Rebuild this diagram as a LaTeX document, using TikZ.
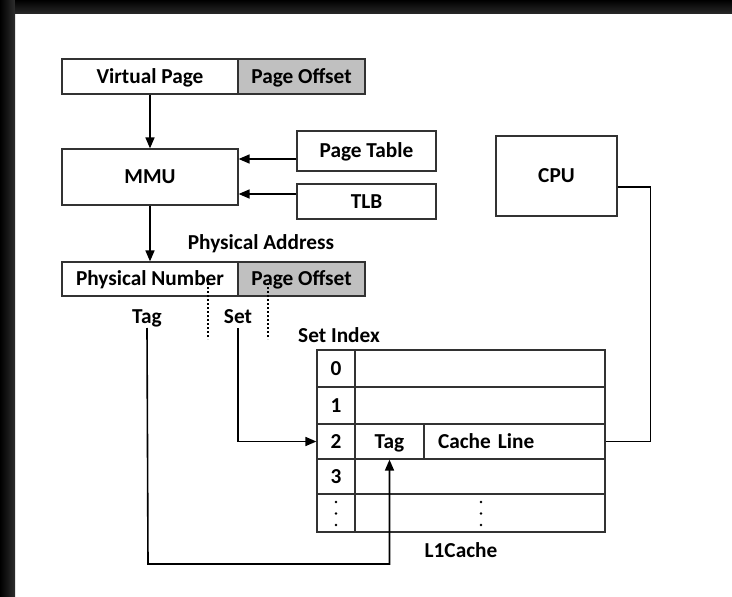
\documentclass[tikz,border=0pt]{standalone}
\usepackage{fontspec}
\setmainfont{Carlito}
\usetikzlibrary{arrows.meta,calc}
\definecolor{shade}{RGB}{192,192,192}
\definecolor{edge}{RGB}{50,50,50}
\tikzset{
  txt/.style={font=\fontsize{21.3}{25}\selectfont\bfseries, text height=13.6pt, text depth=0pt},
  lbl/.style={txt, inner sep=0pt},
  cell/.style={txt, draw=edge, line width=1.2pt, rectangle, inner sep=0pt},
  conn/.style={draw=black, line width=1.6pt},
  arr/.style={conn, -{Triangle[length=11pt,width=9pt]}},
  dotline/.style={draw=black, line width=1.3pt, dash pattern=on 2pt off 2pt},
}
\begin{document}
\begin{tikzpicture}[x=1pt,y=-1pt]
\useasboundingbox (0,0) rectangle (732,597);
\fill[white] (0,0) rectangle (732,597);
\shade[left color=black, right color=black!82] (0,0) rectangle (15,597);
\shade[top color=black, bottom color=black!85] (15,0) rectangle (732,13);
% virtual address
\node[cell, minimum width=176pt, minimum height=35pt] (vp) at (150,76.5) {Virtual Page};
\node[cell, fill=shade, minimum width=127pt, minimum height=35pt] (vpo) at (301.5,76.5) {Page Offset};
% MMU etc
\node[cell, minimum width=176pt, minimum height=56pt] (mmu) at (150,177) {MMU};
\node[cell, minimum width=139pt, minimum height=40pt] (pt) at (366.5,151) {Page Table};
\node[cell, minimum width=139pt, minimum height=35pt] (tlb) at (366.5,201.5) {TLB};
\node[cell, minimum width=121pt, minimum height=80pt] (cpu) at (556.5,176) {CPU};
% physical address
\node[lbl] (palbl) at (261,243) {Physical Address};
\node[cell, minimum width=176pt, minimum height=34pt] (pn) at (150,279) {Physical Number};
\node[cell, fill=shade, minimum width=127pt, minimum height=34pt] (pno) at (301.5,279) {Page Offset};
\node[lbl, inner sep=4pt] (taglbl) at (147,317) {Tag};
\node[lbl, inner sep=4pt] (setlbl) at (238,317) {Set};
\coordinate (d1a) at (208,283);
\coordinate (d1b) at (208,339);
\coordinate (d2a) at (268,283);
\coordinate (d2b) at (268,339);
\draw[dotline] (d1a) -- (d1b);
\draw[dotline] (d2a) -- (d2b);
% cache
\node[lbl] (silbl) at (339,336) {Set Index};
\node[cell, minimum width=38pt, minimum height=37pt] (c0i) at (336,368.5) {0};
\node[cell, minimum width=250pt, minimum height=37pt] (c0l) at (480,368.5) {};
\node[cell, minimum width=38pt, minimum height=37pt] (c1i) at (336,405.5) {1};
\node[cell, minimum width=250pt, minimum height=37pt] (c1l) at (480,405.5) {};
\node[cell, minimum width=38pt, minimum height=35pt] (c2i) at (336,441.5) {2};
\node[cell, minimum width=69pt, minimum height=35pt] (c2t) at (389.5,441.5) {Tag};
\node[cell, minimum width=181pt, minimum height=35pt, text width=153pt, align=left] (c2l) at (514.5,441.5) {Cache Line};
\node[cell, minimum width=38pt, minimum height=35pt] (c3i) at (336,476.5) {3};
\node[cell, minimum width=250pt, minimum height=35pt] (c3l) at (480,476.5) {};
\node[cell, minimum width=38pt, minimum height=38pt] (c4i) at (336,513) {};
\node[cell, minimum width=250pt, minimum height=38pt] (c4l) at (480,513) {};
\foreach \yy in {502,513.5,525} {
  \fill (c4i.center |- 0,\yy) circle (1.4pt);
  \fill (481,\yy) circle (1.4pt);
}
\node[lbl] (l1lbl) at (461,551) {L1Cache};
% connectors
\draw[arr] (vp.south) -- (mmu.north);
\draw[arr] ([yshift=-8pt]pt.west) -- ([yshift=-8pt]pt.west -| mmu.east);
\draw[arr] ([yshift=7.5pt]tlb.west) -- ([yshift=7.5pt]tlb.west -| mmu.east);
\draw[arr] (mmu.south) -- (pn.north);
\coordinate (tagcorner) at (148,564);
\draw[arr] (taglbl.south) -- (tagcorner) -| (c2t.south);
\draw[arr] (setlbl.south) |- (c2i.west);
\draw[conn] ([yshift=-11pt]cpu.east) -- ++(33,0) |- (c2l.east);
\end{tikzpicture}
\end{document}
